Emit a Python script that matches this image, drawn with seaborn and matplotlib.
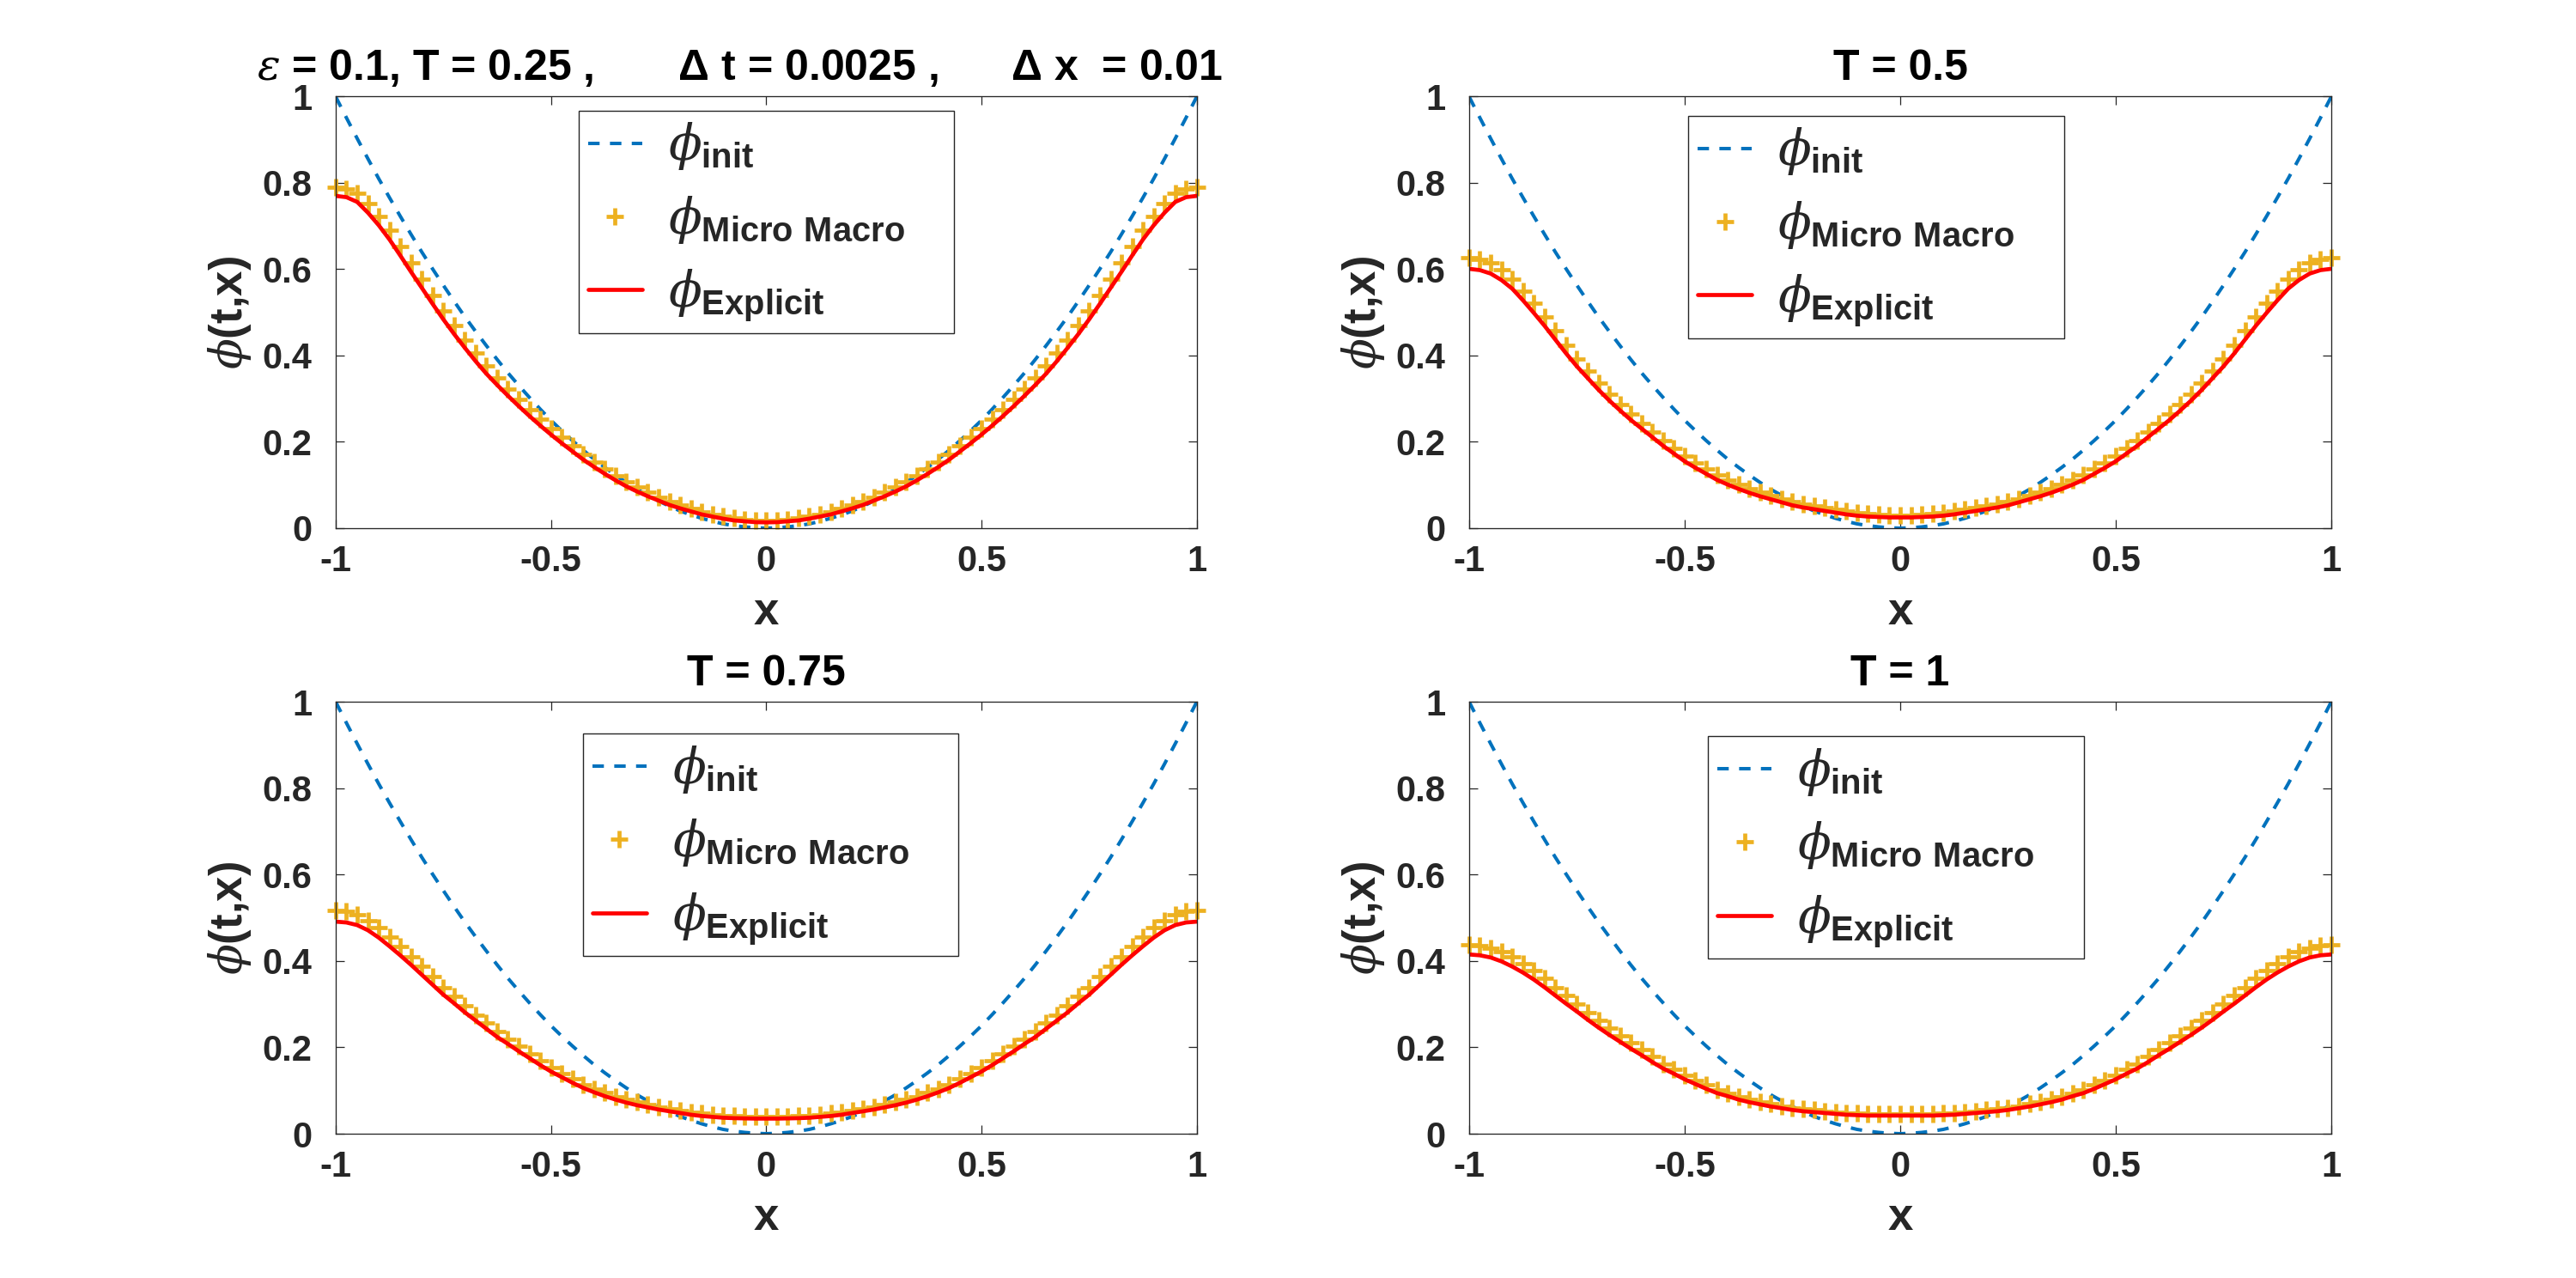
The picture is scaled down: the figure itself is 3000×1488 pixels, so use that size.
import pandas as pd
import seaborn as sns
import matplotlib.pyplot as plt

# Left half of the grid (the profiles are symmetric in x)
x_half = [-1.0, -0.975, -0.95, -0.925, -0.9, -0.875, -0.85, -0.825, -0.8, -0.775,
          -0.75, -0.725, -0.7, -0.675, -0.65, -0.625, -0.6, -0.575, -0.55, -0.525,
          -0.5, -0.475, -0.45, -0.425, -0.4, -0.375, -0.35, -0.325, -0.3, -0.275,
          -0.25, -0.225, -0.2, -0.175, -0.15, -0.125, -0.1, -0.075, -0.05, -0.025, 0.0]

phi_init = [1.000, 0.951, 0.903, 0.856, 0.810, 0.766, 0.723, 0.681, 0.640, 0.601,
            0.563, 0.526, 0.490, 0.456, 0.423, 0.391, 0.360, 0.331, 0.303, 0.276,
            0.250, 0.226, 0.203, 0.181, 0.160, 0.141, 0.123, 0.106, 0.090, 0.076,
            0.063, 0.051, 0.040, 0.031, 0.023, 0.016, 0.010, 0.006, 0.003, 0.001, 0.000]

explicit_t025 = [0.770, 0.767, 0.756, 0.731, 0.702, 0.669, 0.632, 0.594, 0.557, 0.520,
                 0.484, 0.450, 0.418, 0.387, 0.358, 0.332, 0.307, 0.283, 0.260, 0.238,
                 0.217, 0.197, 0.178, 0.159, 0.142, 0.126, 0.111, 0.097, 0.085, 0.074,
                 0.064, 0.054, 0.046, 0.039, 0.032, 0.027, 0.022, 0.018, 0.016, 0.014, 0.0135]
micro_t025 = [0.790, 0.787, 0.776, 0.752, 0.723, 0.690, 0.653, 0.615, 0.577, 0.540,
              0.503, 0.469, 0.436, 0.405, 0.376, 0.349, 0.323, 0.299, 0.275, 0.253,
              0.231, 0.211, 0.191, 0.172, 0.154, 0.138, 0.122, 0.108, 0.095, 0.083,
              0.072, 0.062, 0.053, 0.045, 0.038, 0.032, 0.027, 0.023, 0.020, 0.018, 0.017]

explicit_t050 = [0.601, 0.598, 0.590, 0.575, 0.555, 0.528, 0.499, 0.469, 0.437, 0.405,
                 0.375, 0.348, 0.321, 0.296, 0.273, 0.251, 0.231, 0.211, 0.191, 0.173,
                 0.155, 0.140, 0.126, 0.112, 0.101, 0.091, 0.082, 0.074, 0.067, 0.060,
                 0.053, 0.048, 0.044, 0.040, 0.036, 0.032, 0.029, 0.027, 0.026, 0.025, 0.025]
micro_t050 = [0.626, 0.623, 0.615, 0.599, 0.578, 0.550, 0.521, 0.490, 0.457, 0.424,
              0.392, 0.365, 0.337, 0.311, 0.287, 0.264, 0.243, 0.223, 0.203, 0.185,
              0.167, 0.151, 0.137, 0.123, 0.111, 0.101, 0.091, 0.083, 0.075, 0.068,
              0.062, 0.056, 0.052, 0.047, 0.043, 0.039, 0.035, 0.033, 0.031, 0.030, 0.029]

explicit_t075 = [0.491, 0.489, 0.483, 0.471, 0.454, 0.434, 0.413, 0.391, 0.368, 0.345,
                 0.322, 0.302, 0.281, 0.262, 0.243, 0.224, 0.208, 0.191, 0.175, 0.159,
                 0.144, 0.131, 0.118, 0.106, 0.096, 0.087, 0.079, 0.072, 0.066, 0.061,
                 0.056, 0.052, 0.048, 0.044, 0.041, 0.039, 0.037, 0.036, 0.0355, 0.035, 0.035]
micro_t075 = [0.516, 0.514, 0.507, 0.494, 0.477, 0.455, 0.433, 0.410, 0.387, 0.363,
              0.339, 0.318, 0.296, 0.275, 0.256, 0.236, 0.219, 0.202, 0.185, 0.169,
              0.154, 0.139, 0.127, 0.114, 0.104, 0.095, 0.086, 0.079, 0.073, 0.067,
              0.062, 0.057, 0.054, 0.050, 0.047, 0.044, 0.042, 0.041, 0.040, 0.039, 0.039]

explicit_t100 = [0.415, 0.413, 0.408, 0.399, 0.387, 0.373, 0.357, 0.339, 0.320, 0.301,
                 0.283, 0.264, 0.246, 0.229, 0.213, 0.197, 0.182, 0.166, 0.151, 0.139,
                 0.126, 0.115, 0.104, 0.094, 0.087, 0.079, 0.073, 0.068, 0.063, 0.059,
                 0.055, 0.052, 0.050, 0.048, 0.046, 0.044, 0.043, 0.042, 0.042, 0.042, 0.042]
micro_t100 = [0.437, 0.435, 0.430, 0.421, 0.409, 0.394, 0.377, 0.359, 0.339, 0.320,
              0.301, 0.281, 0.262, 0.244, 0.227, 0.210, 0.194, 0.178, 0.162, 0.149,
              0.136, 0.124, 0.113, 0.102, 0.094, 0.086, 0.080, 0.074, 0.069, 0.064,
              0.060, 0.057, 0.055, 0.052, 0.050, 0.048, 0.047, 0.046, 0.046, 0.046, 0.046]

titles = [r"$\epsilon$ = 0.1, T = 0.25 ,       Δ t = 0.0025 ,      Δ x  = 0.01",
          "T = 0.5", "T = 0.75", "T = 1"]
xticks = [-1, -0.5, 0, 0.5, 1]
xtick_labels = ["-1", "-0.5", "0", "0.5", "1"]
yticks = [0, 0.2, 0.4, 0.6, 0.8, 1]
ytick_labels = ["0", "0.2", "0.4", "0.6", "0.8", "1"]
labels = [r"$\phi_{\mathbf{init}}$", r"$\phi_{\mathbf{Micro\ Macro}}$", r"$\phi_{\mathbf{Explicit}}$"]


def mirror(half, odd=False):
    rest = [(-v if odd else v) for v in reversed(half[:-1])]
    return list(half) + rest


sns.set_theme(style="white")
plt.rcParams["font.family"] = ["Liberation Sans", "DejaVu Sans"]
plt.rcParams["font.weight"] = "bold"
plt.rcParams["axes.unicode_minus"] = False
plt.rcParams["mathtext.fontset"] = "custom"
plt.rcParams["mathtext.it"] = "DejaVu Serif:style=italic:weight=normal"
plt.rcParams["mathtext.rm"] = "Liberation Sans:weight=bold"
plt.rcParams["mathtext.bf"] = "Liberation Sans:weight=bold"

fig = plt.figure(figsize=(30, 14.88), dpi=100)
positions = [[0.1303, 0.5867, 0.3343, 0.3377], [0.5703, 0.5867, 0.3347, 0.3377],
             [0.1303, 0.1129, 0.3343, 0.3380], [0.5703, 0.1129, 0.3347, 0.3380]]
# legend box anchor (left, top) in axes fraction
legend_anchor = [(0.282, 0.967), (0.254, 0.955), (0.287, 0.926), (0.277, 0.920)]
title_x = [0.469, 0.5, 0.5, 0.5]
panels = [(explicit_t025, micro_t025), (explicit_t050, micro_t050),
          (explicit_t075, micro_t075), (explicit_t100, micro_t100)]

for i, (explicit, micro) in enumerate(panels):
    ax = fig.add_axes(positions[i])
    df = pd.DataFrame({
        "x": mirror(x_half, odd=True),
        "init": mirror(phi_init),
        "micro": mirror(micro),
        "explicit": mirror(explicit),
    })
    sns.lineplot(data=df, x="x", y="init", ax=ax, color="#0072BD", linewidth=2.9,
                 linestyle=(0, (3.3, 3.0)), errorbar=None, sort=False)
    sns.lineplot(data=df, x="x", y="micro", ax=ax, color="#EDB120", linestyle="none",
                 marker="+", markersize=14, markeredgewidth=3.4, markeredgecolor="#EDB120",
                 errorbar=None, sort=False, clip_on=False)
    sns.lineplot(data=df, x="x", y="explicit", ax=ax, color="#FF0000", linewidth=3.4,
                 errorbar=None, sort=False)

    ax.set_xlim(-1, 1)
    ax.set_ylim(0, 1)
    ax.set_xticks(xticks, xtick_labels)
    ax.set_yticks(yticks, ytick_labels)
    ax.tick_params(direction="in", length=7.2, width=0.9, top=True, right=True,
                   bottom=True, left=True, colors="#262626", labelsize=30)
    ax.tick_params(axis="x", pad=14)
    ax.tick_params(axis="y", pad=20)
    for sp in ax.spines.values():
        sp.set_color("#262626")
        sp.set_linewidth(0.95)

    ax.set_title(titles[i], fontsize=36, fontweight="bold", color="black", pad=14,
                 x=title_x[i])
    ax.set_xlabel("x", fontsize=38, fontweight="bold", color="#262626", labelpad=10)
    ax.set_ylabel(r"$\phi$(t,x)", fontsize=38, fontweight="bold", color="#262626", labelpad=7)

    lx, ly = legend_anchor[i]
    leg = ax.legend(ax.get_lines(), labels, loc="upper left",
                    bbox_to_anchor=(lx, ly - 0.6, 0.436, 0.6), mode="expand",
                    borderaxespad=0, fontsize=41, frameon=True, fancybox=False,
                    framealpha=1, facecolor="white", edgecolor="#262626",
                    handlelength=1.1, handletextpad=0.53, labelspacing=0.45,
                    borderpad=0.2, numpoints=1)
    leg.get_frame().set_linewidth(1.0)

fig.savefig("out.png", dpi=100)
